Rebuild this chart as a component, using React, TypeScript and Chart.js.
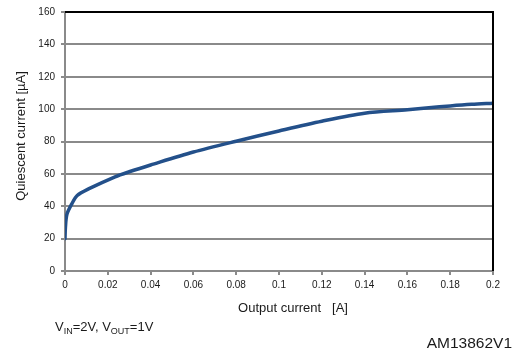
import React, { useEffect, useRef } from "react";
import { Chart, registerables } from "chart.js";

Chart.register(...registerables);

// Quiescent current versus output current (VIN = 2 V, VOUT = 1 V)
const outputCurrentA = [
  0, 0.0002, 0.0009, 0.0032, 0.0057, 0.011, 0.0234, 0.03, 0.04, 0.06, 0.08,
  0.1, 0.12, 0.14, 0.16, 0.17, 0.18, 0.19, 0.2,
];
const quiescentUA = [
  20, 27, 35, 41.5, 46.6, 50.7, 58.2, 61.3, 65.5, 73.5, 80.2, 86.5, 92.5,
  97.5, 99.6, 100.8, 102, 103, 103.7,
];
const yTicks = [0, 20, 40, 60, 80, 100, 120, 140, 160];
const xTicks = [0, 0.02, 0.04, 0.06, 0.08, 0.1, 0.12, 0.14, 0.16, 0.18, 0.2];

const FONT = "'Liberation Sans', Arial, sans-serif";
const GRID = "#8a8a8a";
const TEXT = "#1a1a1a";

const annotations = {
  id: "annotations",
  afterDatasetsDraw(chart: any) {
    const { ctx, chartArea } = chart;
    const { left, right, top, bottom } = chartArea;
    ctx.save();
    // black frame on top and right
    ctx.strokeStyle = "#000";
    ctx.lineWidth = 2;
    ctx.beginPath();
    ctx.moveTo(left, top);
    ctx.lineTo(right, top);
    ctx.lineTo(right, bottom);
    ctx.stroke();

    ctx.fillStyle = TEXT;
    // y axis title
    ctx.save();
    ctx.translate(21, 136);
    ctx.rotate(-Math.PI / 2);
    ctx.font = `13px ${FONT}`;
    ctx.textAlign = "center";
    ctx.textBaseline = "middle";
    ctx.fillText("Quiescent current [µA]", 0, 0);
    ctx.restore();

    // x axis title
    ctx.font = `13px ${FONT}`;
    ctx.textAlign = "center";
    ctx.textBaseline = "middle";
    ctx.fillText("Output current   [A]", 293, 308);

    // conditions note with subscripts
    ctx.textAlign = "left";
    ctx.textBaseline = "alphabetic";
    let x = 55;
    const base = 331;
    const parts: [string, boolean][] = [
      ["V", false],
      ["IN", true],
      ["=2V, V", false],
      ["OUT", true],
      ["=1V", false],
    ];
    for (const [t, sub] of parts) {
      ctx.font = sub ? `9px ${FONT}` : `13px ${FONT}`;
      ctx.fillText(t, x, sub ? base + 3 : base);
      x += ctx.measureText(t).width;
    }

    // figure id
    ctx.font = `15.5px ${FONT}`;
    ctx.textAlign = "right";
    ctx.fillText("AM13862V1", 512, 348);
    ctx.restore();
  },
};

export default function App() {
  const ref = useRef<HTMLCanvasElement | null>(null);

  useEffect(() => {
    if (!ref.current) return;
    const chart = new Chart(ref.current, {
      type: "line",
      data: {
        datasets: [
          {
            data: outputCurrentA.map((x, i) => ({ x, y: quiescentUA[i] })),
            borderColor: "#23508a",
            borderWidth: 3.5,
            pointRadius: 0,
            fill: false,
            tension: 0.3,
            borderJoinStyle: "round",
            borderCapStyle: "round",
          },
        ],
      },
      options: {
        responsive: false,
        animation: false,
        layout: { padding: { top: 11, right: 24, left: 0, bottom: 0 } },
        plugins: {
          legend: { display: false },
          tooltip: { enabled: false },
        },
        scales: {
          x: {
            type: "linear",
            min: 0,
            max: 0.2,
            afterBuildTicks: (s: any) => {
              s.ticks = xTicks.map((v) => ({ value: v }));
            },
            afterFit: (s: any) => {
              s.height = 87;
            },
            ticks: {
              font: { family: FONT, size: 10 },
              color: TEXT,
              padding: 4,
              maxRotation: 0,
              autoSkip: false,
              callback: (v: any) => String(+Number(v).toFixed(2)),
            },
            grid: {
              drawOnChartArea: false,
              drawTicks: true,
              tickLength: 4,
              color: GRID,
              lineWidth: 2,
            },
            border: { color: GRID, width: 2 },
          },
          y: {
            type: "linear",
            min: 0,
            max: 160,
            afterBuildTicks: (s: any) => {
              s.ticks = yTicks.map((v) => ({ value: v }));
            },
            afterFit: (s: any) => {
              s.width = 65;
            },
            ticks: {
              font: { family: FONT, size: 10 },
              color: TEXT,
              padding: 6,
              autoSkip: false,
            },
            grid: {
              color: GRID,
              lineWidth: 2,
              tickLength: 4,
            },
            border: { color: GRID, width: 2 },
          },
        },
      },
      plugins: [annotations],
    } as any);
    return () => chart.destroy();
  }, []);

  return (
    <div style={{ position: "fixed", left: 0, top: 0, width: 517, height: 358, background: "#fff" }}>
      <canvas ref={ref} width={517} height={358} />
    </div>
  );
}
